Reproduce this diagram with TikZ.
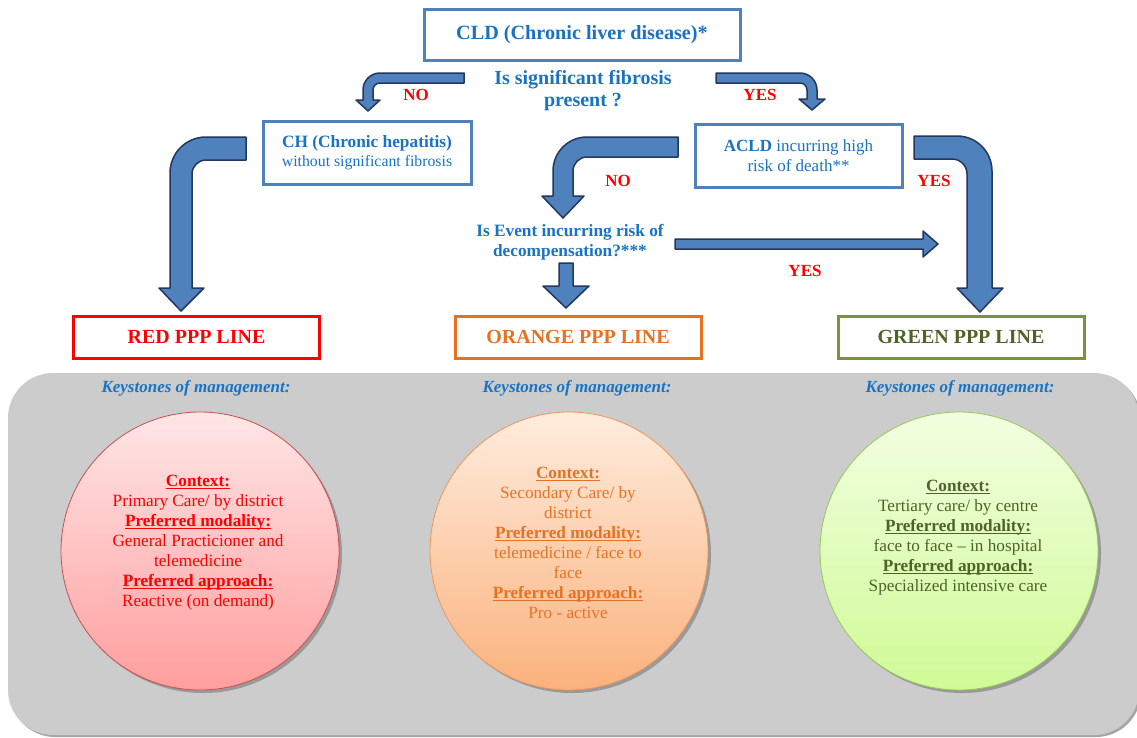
\documentclass[tikz,border=0pt]{standalone}
\usepackage{fontspec}
\setmainfont{Liberation Serif}
\definecolor{bluetxt}{RGB}{25,115,195}
\definecolor{boxblue}{RGB}{79,129,189}
\definecolor{arrowfill}{RGB}{79,129,189}
\definecolor{arrowdraw}{RGB}{35,55,95}
\definecolor{pppred}{RGB}{255,0,0}
\definecolor{pppor}{RGB}{232,112,30}
\definecolor{pppgr}{RGB}{119,147,60}
\definecolor{grtxt}{RGB}{79,98,40}
\definecolor{panel}{RGB}{204,204,204}
\newcommand\ulhead[1]{\setbox0\hbox{\textbf{#1}}\rlap{\rule[-2pt]{\wd0}{0.9pt}}\box0}
\begin{document}
\begin{tikzpicture}[x=1pt,y=-1pt,
  bluebox/.style={draw=boxblue, line width=3pt, text=bluetxt, align=center, inner sep=0pt},
  pppbox/.style={line width=3pt, minimum height=42pt, minimum width=246pt, inner sep=0pt,
     font=\fontsize{20}{24}\selectfont\bfseries},
  lbl/.style={text=pppred, font=\fontsize{17}{20}\selectfont\bfseries},
  fat/.style={fill=arrowfill, draw=arrowdraw, line width=1.5pt, line join=round},
  keyst/.style={text=bluetxt, font=\fontsize{17}{20}\selectfont\bfseries\itshape},
  circtext/.style={align=center, font=\fontsize{17.2}{20}\selectfont},
  disc/.style={circle, minimum size=278pt, line width=0.8pt, inner sep=0pt}]
\useasboundingbox (0,0) rectangle (1137,737);
\fill[white] (0,0) rectangle (1137,737);

% panel
\fill[black!35, rounded corners=45pt] (10,375) rectangle (1141,737);
\fill[panel, rounded corners=45pt] (8,373) rectangle (1139,735);

% top boxes
\node[bluebox, minimum width=316pt, minimum height=51pt,
      font=\fontsize{20.2}{24}\selectfont\bfseries] (cld) at (582,34.5) {CLD (Chronic liver disease)*};
\node[text=bluetxt, align=center, font=\fontsize{20}{22}\selectfont\bfseries] (q1) at (583,91)
      {Is significant fibrosis\\present ?};
\node[bluebox, minimum width=208pt, minimum height=63pt, font=\fontsize{15.8}{19}\selectfont] (ch) at (367,152.5)
      {{\fontsize{17.3}{19}\selectfont\bfseries CH (Chronic hepatitis)}\\without significant fibrosis};
\node[bluebox, minimum width=207pt, minimum height=63pt, font=\fontsize{17}{20}\selectfont] (acld) at (798.5,155.5)
      {\textbf{ACLD} incurring high\\risk of death**};
\node[text=bluetxt, align=center, font=\fontsize{17.3}{20}\selectfont\bfseries] (q2) at (570,242)
      {Is Event incurring risk of\\decompensation?***};

% labels
\node[lbl] (no1) at (416,95) {NO};
\node[lbl] (yes1) at (760,95) {YES};
\node[lbl] (no2) at (618,181) {NO};
\node[lbl] (yes2) at (934,181) {YES};
\node[lbl] (yes3) at (805,271) {YES};

% PPP lines
\node[pppbox, draw=pppred, text=pppred] (red) at (196.5,337) {RED PPP LINE};
\node[pppbox, draw=pppor, text=pppor] (orange) at (578,337) {ORANGE PPP LINE};
\node[pppbox, draw=pppgr, text=grtxt] (green) at (961,337) {GREEN PPP LINE};

% fat arrows
\draw[fat] (464,73) -- (380,73) .. controls (370.6,73) and (363,80.6) .. (363,90) -- (363,100)
  -- (356,100) -- (368,111) -- (380,100) -- (373,100) -- (373,90)
  .. controls (373,86.1) and (376.1,83) .. (380,83) -- (464,83) -- cycle;
\draw[fat] (716,73) -- (800,73) .. controls (809.4,73) and (817,80.6) .. (817,90) -- (817,99)
  -- (825,99) -- (812,110) -- (799,99) -- (807,99) -- (807,90)
  .. controls (807,86.1) and (803.9,83) .. (800,83) -- (716,83) -- cycle;
\draw[fat] (246,137) -- (206,137) .. controls (186.1,137) and (170,153.1) .. (170,173) -- (170,288)
  -- (159,288) -- (181,311) -- (204,288) -- (192,288) -- (192,174)
  .. controls (192,166.3) and (198.3,160) .. (206,160) -- (246,160) -- cycle;
\draw[fat] (678,137) -- (587,137) .. controls (568.2,137) and (553,152.2) .. (553,171) -- (553,196)
  -- (542,196) -- (563,218) -- (584,196) -- (573,196) -- (573,171)
  .. controls (573,163.3) and (579.3,157) .. (587,157) -- (678,157) -- cycle;
\draw[fat] (675,239) -- (923,239) -- (923,231) -- (938,244) -- (923,257) -- (923,249) -- (675,249) -- cycle;
\draw[fat] (559,263) -- (573,263) -- (573,286) -- (589,286) -- (566,308) -- (543,286) -- (559,286) -- cycle;
\draw[fat] (914,136) -- (957,136) .. controls (976.3,136) and (992,151.7) .. (992,171) -- (992,288)
  -- (1003,288) -- (980,312) -- (957,288) -- (967,288) -- (967,174)
  .. controls (967,165.7) and (960.3,159) .. (952,159) -- (914,159) -- cycle;

% keystones
\node[keyst] (k1) at (196,388) {Keystones of management:};
\node[keyst] (k2) at (577,388) {Keystones of management:};
\node[keyst] (k3) at (960,388) {Keystones of management:};

% circles
\fill[black!40] (203,554) circle (139);
\fill[black!40] (572,554) circle (139);
\fill[black!40] (962,554) circle (139);
\node[disc, top color={rgb,255:red,255;green,230;blue,230}, bottom color={rgb,255:red,255;green,158;blue,158},
      draw={rgb,255:red,200;green,80;blue,80}] (c1) at (200,551) {};
\node[disc, top color={rgb,255:red,255;green,236;blue,222}, bottom color={rgb,255:red,250;green,178;blue,125},
      draw={rgb,255:red,240;green,150;blue,90}] (c2) at (569,551) {};
\node[disc, top color={rgb,255:red,242;green,255;blue,225}, bottom color={rgb,255:red,208;green,250;blue,150},
      draw={rgb,255:red,150;green,200;blue,90}] (c3) at (959,551) {};

\node[circtext, text=pppred] (t1) at (198,543)
  {\ulhead{Context:}\\Primary Care/ by district\\\ulhead{Preferred modality:}\\
   General Practicioner and\\telemedicine\\\ulhead{Preferred approach:}\\Reactive (on demand)};
\node[circtext, text={rgb,255:red,230;green,115;blue,35}] (t2) at (568,543)
  {\ulhead{Context:}\\Secondary Care/ by\\district\\\ulhead{Preferred modality:}\\
   telemedicine / face to\\face\\\ulhead{Preferred approach:}\\Pro - active};
\node[circtext, text=grtxt] (t3) at (958,538)
  {\ulhead{Context:}\\Tertiary care/ by centre\\\ulhead{Preferred modality:}\\
   face to face -- in hospital\\\ulhead{Preferred approach:}\\Specialized intensive care};
\end{tikzpicture}
\end{document}
